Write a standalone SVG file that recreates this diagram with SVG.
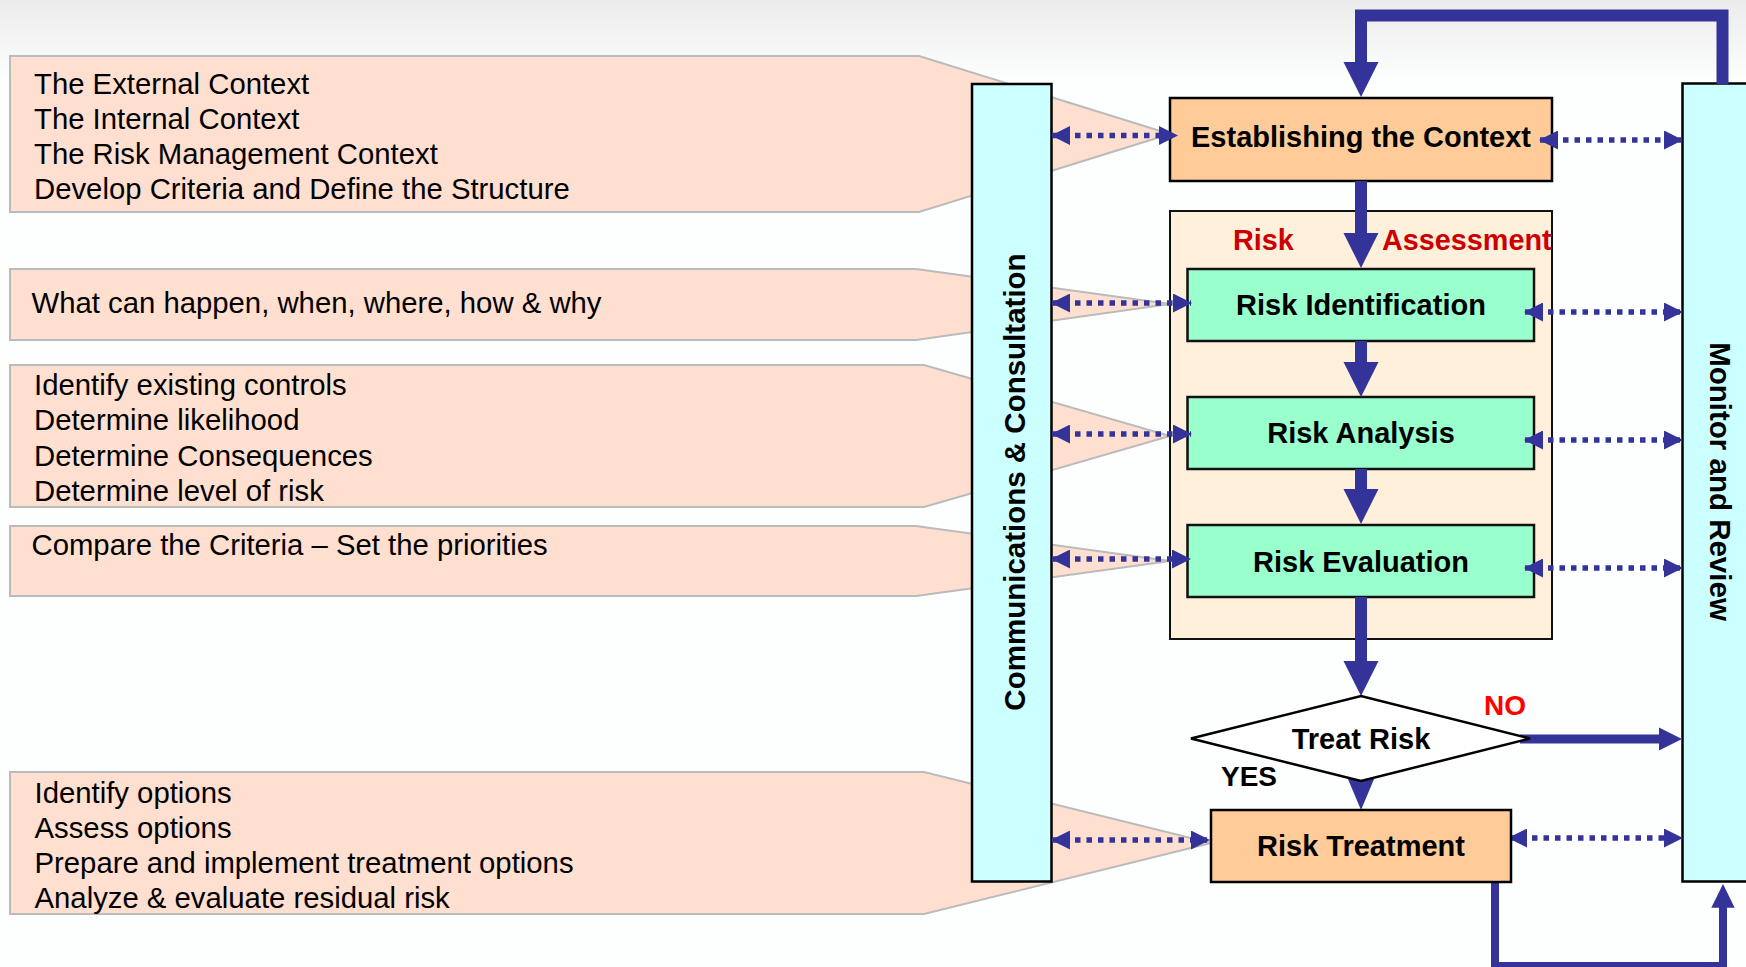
<svg xmlns="http://www.w3.org/2000/svg" width="1746" height="967" viewBox="0 0 1746 967">
<defs>
<linearGradient id="bg" x1="0" y1="0" x2="0" y2="1">
<stop offset="0" stop-color="#ebebeb"/>
<stop offset="1" stop-color="#fdfefe"/>
</linearGradient>
<marker id="dh" viewBox="0 0 19 19" refX="18" refY="9.5" markerWidth="19" markerHeight="19" markerUnits="userSpaceOnUse" orient="auto-start-reverse">
<path d="M0,0 L19,9.5 L0,19 Z" fill="#333399"/>
</marker>
<style>
.callout{fill:#FFDFCF;stroke:#BBBBBB;stroke-width:2}
.lt{font-family:"Liberation Sans",Arial,sans-serif;font-size:29.3px;fill:#000}
.bt{font-family:"Liberation Sans",Arial,sans-serif;font-size:29px;font-weight:bold;fill:#000;text-anchor:middle}
.vt{font-family:"Liberation Sans",Arial,sans-serif;font-size:29.5px;font-weight:bold;fill:#000;text-anchor:middle}
.red{font-family:"Liberation Sans",Arial,sans-serif;font-size:28.8px;font-weight:bold;fill:#CC0000}
.bar{fill:#CCFFFF;stroke:#000;stroke-width:2.5}
.orange{fill:#FFCC99;stroke:#000;stroke-width:2.5}
.green{fill:#99FFCC;stroke:#111;stroke-width:2.5}
.dot{stroke:#333399;stroke-width:5.5;stroke-dasharray:5.5 6;fill:none;marker-start:url(#dh);marker-end:url(#dh)}
.main{stroke:#333399;stroke-width:12;fill:none}
.head{fill:#333399}
</style>
</defs>
<rect x="0" y="0" width="1746" height="967" fill="#fdfefe"/>
<rect x="0" y="0" width="1746" height="80" fill="url(#bg)"/>

<g id="callouts">
<g id="callout-context">
<polygon class="callout" points="10,56 919,56 1170,134 919,212 10,212"/>
<text class="lt" x="34" y="93.5">The External Context</text>
<text class="lt" x="34" y="128.5">The Internal Context</text>
<text class="lt" x="34" y="163.5">The Risk Management Context</text>
<text class="lt" x="34" y="199">Develop Criteria and Define the Structure</text>
</g>
<g id="callout-identification">
<polygon class="callout" points="10,269 916,269 1170,304 916,340 10,340"/>
<text class="lt" x="31.5" y="313">What can happen, when, where, how &amp; why</text>
</g>
<g id="callout-analysis">
<polygon class="callout" points="10,365 924,365 1170,436 924,507 10,507"/>
<text class="lt" x="34" y="395">Identify existing controls</text>
<text class="lt" x="34" y="430">Determine likelihood</text>
<text class="lt" x="34" y="466">Determine Consequences</text>
<text class="lt" x="34" y="501">Determine level of risk</text>
</g>
<g id="callout-evaluation">
<polygon class="callout" points="10,526 916,526 1170,561 916,596 10,596"/>
<text class="lt" x="31.5" y="555">Compare the Criteria – Set the priorities</text>
</g>
<g id="callout-treatment">
<polygon class="callout" points="10,772 924,772 1211,843 924,914 10,914"/>
<text class="lt" x="34.5" y="803">Identify options</text>
<text class="lt" x="34.5" y="838">Assess options</text>
<text class="lt" x="34.5" y="873">Prepare and implement treatment options</text>
<text class="lt" x="34.5" y="908">Analyze &amp; evaluate residual risk</text>
</g>
</g>

<g id="comm-bar">
<rect class="bar" x="972" y="84" width="79.5" height="797.5"/>
<text class="vt" transform="translate(1025,482) rotate(-90)">Communications &amp; Consultation</text>
</g>

<g id="monitor-bar">
<rect class="bar" x="1682.5" y="83.5" width="80" height="798"/>
<text class="vt" transform="translate(1709.5,481.5) rotate(90)">Monitor and Review</text>
</g>

<g id="assessment">
<rect x="1170" y="211" width="382" height="428" fill="#FEF0DA" stroke="#111" stroke-width="2"/>
<text class="red" x="1233" y="249.5">Risk</text>
<text class="red" x="1382" y="249.5">Assessment</text>
</g>

<g id="establishing">
<rect class="orange" x="1170" y="98" width="382" height="83"/>
<text class="bt" x="1361" y="147">Establishing the Context</text>
</g>

<g id="identification">
<rect class="green" x="1187.5" y="269" width="346.5" height="72"/>
<text class="bt" x="1361" y="315">Risk Identification</text>
</g>

<g id="analysis">
<rect class="green" x="1187.5" y="397" width="346.5" height="72"/>
<text class="bt" x="1361" y="443">Risk Analysis</text>
</g>

<g id="evaluation">
<rect class="green" x="1187.5" y="525" width="346.5" height="72"/>
<text class="bt" x="1361" y="572">Risk Evaluation</text>
</g>

<g id="connectors">
<polyline class="main" points="1722.5,84 1722.5,15.5 1361,15.5 1361,63"/>
<polygon class="head" points="1343.5,62 1378.5,62 1361,97"/>
<line class="main" x1="1361" y1="181" x2="1361" y2="234"/>
<polygon class="head" points="1343.5,233 1378.5,233 1361,268"/>
<line class="main" x1="1361" y1="341" x2="1361" y2="363"/>
<polygon class="head" points="1343.5,362 1378.5,362 1361,397"/>
<line class="main" x1="1361" y1="469" x2="1361" y2="490"/>
<polygon class="head" points="1343.5,489 1378.5,489 1361,524"/>
<line class="main" x1="1361" y1="597" x2="1361" y2="662"/>
<polygon class="head" points="1343.5,661 1378.5,661 1361,696"/>
<polygon class="head" points="1345,772 1377,772 1361,810"/>
<line x1="1520" y1="739" x2="1660" y2="739" stroke="#333399" stroke-width="9"/>
<polygon class="head" points="1659,727.5 1659,750.5 1682,739"/>
<polyline points="1495,882 1495,966 1723,966 1723,906" stroke="#333399" stroke-width="8" fill="none"/>
<polygon class="head" points="1711.3,907.7 1734.7,907.7 1723,884"/>

<line class="dot" x1="1052" y1="135.5" x2="1177" y2="135.5"/>
<line class="dot" x1="1052" y1="303" x2="1191" y2="303"/>
<line class="dot" x1="1052" y1="434" x2="1191" y2="434"/>
<line class="dot" x1="1052" y1="559" x2="1190" y2="559"/>
<line class="dot" x1="1052" y1="840" x2="1209" y2="840"/>
<line class="dot" x1="1540" y1="140" x2="1682" y2="140"/>
<line class="dot" x1="1525" y1="312" x2="1682" y2="312"/>
<line class="dot" x1="1525" y1="440" x2="1682" y2="440"/>
<line class="dot" x1="1525" y1="568" x2="1682" y2="568"/>
<line class="dot" x1="1509" y1="838" x2="1682" y2="838"/>
</g>

<g id="decision">
<polygon points="1191,738.5 1361,696 1530,738.5 1361,781" fill="#fff" stroke="#000" stroke-width="2.5"/>
<text class="bt" x="1361" y="748.5">Treat Risk</text>
<text x="1484" y="715" font-family="Liberation Sans, Arial, sans-serif" font-size="28" font-weight="bold" fill="#FF0000">NO</text>
<text x="1221" y="786" font-family="Liberation Sans, Arial, sans-serif" font-size="28" font-weight="bold" fill="#000">YES</text>
</g>

<g id="treatment">
<rect class="orange" x="1211" y="810" width="300" height="72"/>
<text class="bt" x="1361" y="856">Risk Treatment</text>
</g>
</svg>
